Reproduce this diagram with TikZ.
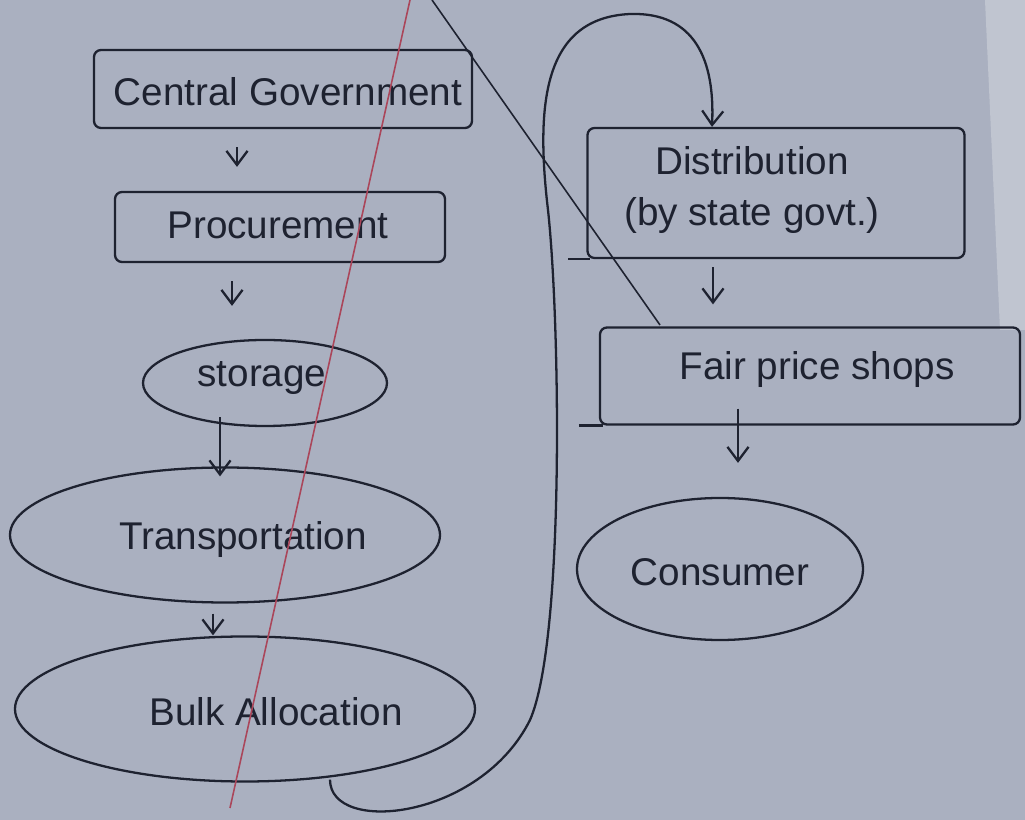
\documentclass[tikz,border=0pt]{standalone}
\usepackage{fontspec}
\setmainfont{Liberation Sans}
\usetikzlibrary{arrows.meta,shapes.geometric,calc}
\definecolor{paper}{RGB}{170,176,192}
\definecolor{paperedge}{RGB}{192,197,208}
\definecolor{ink}{RGB}{30,34,48}
\definecolor{redpen}{RGB}{170,70,90}
\tikzset{
  box/.style={draw=ink, line width=1.3pt, rectangle, rounded corners=4pt, inner sep=0pt},
  oval/.style={draw=ink, line width=1.3pt, ellipse, inner sep=0pt},
  lbl/.style={text=ink, font=\fontsize{22}{29}\selectfont, align=center},
  arr/.style={draw=ink, line width=1.3pt, -{Straight Barb[length=8pt,width=12pt]}},
  strike/.style={line width=0.9pt}
}
\begin{document}
\begin{tikzpicture}[x=0.02cm,y=-0.02cm]
\useasboundingbox (0,0) rectangle (1025,820);
\fill[paper] (0,0) rectangle (1025,820);
\fill[paperedge] (985,0) -- (1025,0) -- (1025,330) -- (1000,330) -- cycle;

% nodes
\node[box, minimum width=378*0.02cm, minimum height=78*0.02cm] (cg) at (283,89) {};
\node[box, minimum width=330*0.02cm, minimum height=70*0.02cm] (proc) at (280,227) {};
\node[oval, minimum width=244*0.02cm, minimum height=86*0.02cm] (st) at (265,383) {};
\node[oval, minimum width=430*0.02cm, minimum height=135*0.02cm] (tr) at (225,535) {};
\node[oval, minimum width=460*0.02cm, minimum height=145*0.02cm] (bulk) at (245,709) {};
\node[box, minimum width=377*0.02cm, minimum height=130*0.02cm] (dist) at (776,193) {};
\node[box, minimum width=420*0.02cm, minimum height=97*0.02cm] (fps) at (810,376) {};
\node[oval, minimum width=286*0.02cm, minimum height=142*0.02cm] (cons) at (720,569) {};

% extended lines of the boxes
\draw[ink, line width=1.3pt] ($(dist.south west)+(-18,0)$) -- ($(dist.south west)+(4,0)$);
\draw[ink, line width=1.3pt] ($(fps.south west)+(-20,0)$) -- ($(fps.south west)+(4,0)$);

% labels
\node[lbl] (tcg) at (288,92) {Central Government};
\node[lbl] (tproc) at (278,225) {Procurement};
\node[lbl] (tst) at (262,378) {storage};
\node[lbl] (ttr) at (243,540) {Transportation};
\node[lbl] (tbulk) at (276,712) {Bulk Allocation};
\node[lbl] (tdist) at (752,190) {Distribution\\(by state govt.)};
\node[lbl] (tfps) at (817,370) {Fair price shops};
\node[lbl] (tcons) at (720,572) {Consumer};

% connectors
\draw[arr] ($(cg.south)+(-46,18)$) -- ($(proc.north)+(-43,-24)$);
\draw[arr] ($(proc.south)+(-48,18)$) -- ($(st.north)+(-33,-33)$);
\draw[arr] ($(st.south)+(-45,-10)$) -- ($(tr.north)+(-5,10)$);
\draw[arr] ($(tr.south)+(-12,10)$) -- ($(bulk.north)+(-32,0)$);
\draw[arr] ($(dist.south)+(-63,8)$) -- ($(fps.north)+(-97,-22)$);
\draw[arr] ($(fps.south)+(-72,-17)$) -- ($(cons.north)+(18,-34)$);
\draw[arr] ($(bulk.south)+(85,-3)$) .. controls (330,835) and (480,820) .. (530,720)
  .. controls (565,640) and (560,320) .. (548,210)
  .. controls (535,100) and (545,18) .. (630,14)
  .. controls (695,12) and (715,60) .. ($(dist.north)+(-64,0)$);

% strike lines across the page
\draw[redpen, strike] (410,0) -- (230,808);
\draw[ink, strike] (432,0) -- (660,325);
\end{tikzpicture}
\end{document}
